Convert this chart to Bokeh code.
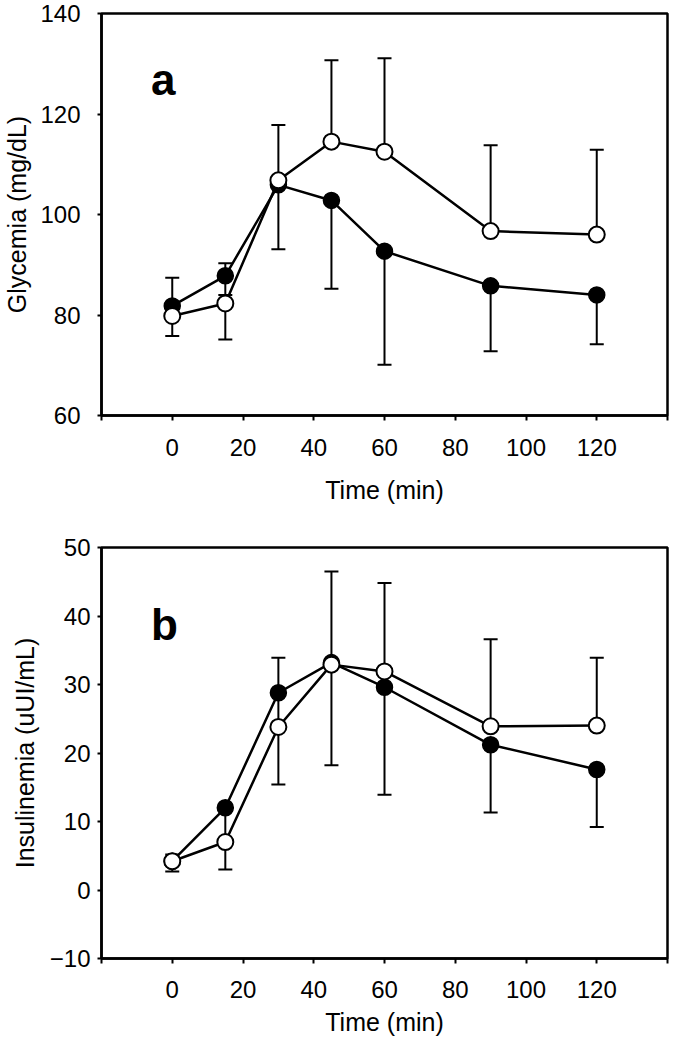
from bokeh.plotting import figure
from bokeh.models import Range1d, FixedTicker, Whisker, TeeHead, ColumnDataSource, Label
from bokeh.layouts import column
from bokeh.embed import file_html
from bokeh.resources import INLINE

# ---------------- data ----------------
time = [0, 15, 30, 45, 60, 90, 120]

glyc_filled = [81.8, 87.8, 105.9, 102.8, 92.7, 85.8, 84.0]
glyc_open = [79.8, 82.3, 106.8, 114.5, 112.5, 96.7, 96.0]
glyc_filled_err_hi = [87.4, 90.3, None, None, None, None, None]
glyc_filled_err_lo = [None, 84.0, 93.1, 85.2, 70.1, 72.8, 74.2]
glyc_open_err_hi = [None, None, 117.8, 130.7, 131.1, 113.8, 112.9]
glyc_open_err_lo = [75.8, 75.1, None, None, None, None, None]

ins_filled = [4.2, 12.0, 28.8, 33.2, 29.6, 21.2, 17.6]
ins_open = [4.2, 7.0, 23.8, 32.9, 31.9, 23.9, 24.0]
ins_filled_err_hi = [5.2, None, 33.9, None, None, None, None]
ins_filled_err_lo = [None, 7.5, 24.0, 18.2, 13.9, 11.3, 9.2]
ins_open_err_hi = [None, None, None, 46.5, 44.8, 36.6, 33.9]
ins_open_err_lo = [2.7, 3.0, 15.4, None, None, None, None]

x_ticks = [-20, 0, 20, 40, 60, 80, 100, 120, 140]
glyc_ticks = [60, 80, 100, 120, 140]
ins_ticks = [-10, 0, 10, 20, 30, 40, 50]

FONT = "Liberation Sans"


def add_errors(p, xs, vals, ends):
    up_x, up_lo, up_hi, dn_x, dn_lo, dn_hi = [], [], [], [], [], []
    for x, v, e in zip(xs, vals, ends):
        if e is None:
            continue
        if e >= v:
            up_x.append(x); up_lo.append(v); up_hi.append(e)
        else:
            dn_x.append(x); dn_lo.append(e); dn_hi.append(v)
    if up_x:
        src = ColumnDataSource(dict(x=up_x, lo=up_lo, hi=up_hi))
        p.add_layout(Whisker(base="x", lower="lo", upper="hi", source=src,
                             line_width=2, line_color="black",
                             upper_head=TeeHead(size=14, line_width=2, line_color="black"),
                             lower_head=None))
    if dn_x:
        src = ColumnDataSource(dict(x=dn_x, lo=dn_lo, hi=dn_hi))
        p.add_layout(Whisker(base="x", lower="lo", upper="hi", source=src,
                             line_width=2, line_color="black",
                             lower_head=TeeHead(size=14, line_width=2, line_color="black"),
                             upper_head=None))


def make_panel(filled, opened, f_hi, f_lo, o_hi, o_lo, yr, yticks, ylabel, letter,
               letter_y, height, mb_left, mb_top, mb_bottom, ystandoff, ylab_standoff,
               xstandoff, xlab_standoff):
    p = figure(width=669, height=height, output_backend="svg", toolbar_location=None,
               x_range=Range1d(-20, 140), y_range=Range1d(*yr),
               min_border_left=mb_left, min_border_right=2,
               min_border_top=mb_top, min_border_bottom=mb_bottom)
    p.xgrid.visible = False
    p.ygrid.visible = False
    p.outline_line_color = "black"
    p.outline_line_width = 2.5
    p.outline_line_alpha = 1.0

    p.xaxis.ticker = FixedTicker(ticks=x_ticks)
    p.xaxis.major_label_overrides = {-20: "", 140: ""}
    p.yaxis.ticker = FixedTicker(ticks=yticks)
    for ax in (p.xaxis[0], p.yaxis[0]):
        ax.axis_line_width = 2.5
        ax.axis_line_color = "black"
        ax.major_tick_line_width = 2
        ax.major_tick_line_color = "black"
        ax.major_tick_in = 0
        ax.minor_tick_line_color = None
        ax.major_label_text_font = FONT
        ax.major_label_text_font_size = "24px"
        ax.major_label_text_color = "black"
        ax.axis_label_text_font = FONT
        ax.axis_label_text_font_size = "25px"
        ax.axis_label_text_font_style = "normal"
        ax.axis_label_text_color = "black"
    p.xaxis.major_tick_out = 5
    p.xaxis.major_label_standoff = xstandoff
    p.xaxis.axis_label_standoff = xlab_standoff
    p.xaxis.axis_label = "Time (min)"
    p.yaxis.major_tick_out = 4
    p.yaxis.major_label_standoff = ystandoff
    p.yaxis.axis_label_standoff = ylab_standoff
    p.yaxis.axis_label = ylabel

    add_errors(p, time, filled, f_hi)
    add_errors(p, time, filled, f_lo)
    add_errors(p, time, opened, o_hi)
    add_errors(p, time, opened, o_lo)

    p.line(time, filled, line_color="black", line_width=2.5)
    p.line(time, opened, line_color="black", line_width=2.5)
    p.scatter(time, filled, size=16, fill_color="black", line_color="black", line_width=1.5)
    p.scatter(time, opened, size=16, fill_color="white", line_color="black", line_width=2)

    p.add_layout(Label(x=-6, y=letter_y, text=letter, text_font=FONT,
                       text_font_size="44px", text_font_style="bold",
                       text_color="black", text_baseline="alphabetic"))
    return p


p1 = make_panel(glyc_filled, glyc_open, glyc_filled_err_hi, glyc_filled_err_lo,
                glyc_open_err_hi, glyc_open_err_lo, (60, 140), glyc_ticks,
                "Glycemia (mg/dL)", "a", 126.8, 520, 96, 13, 105, 17, 6, 18, 17)
p2 = make_panel(ins_filled, ins_open, ins_filled_err_hi, ins_filled_err_lo,
                ins_open_err_hi, ins_open_err_lo, (-10, 50), ins_ticks,
                "Insulinemia (uUI/mL)", "b", 38.8, 522, 87, 27, 84, 7, 8, 17, 7)

layout = column(p1, p2)
open("out.html", "w").write(file_html(layout, INLINE))
